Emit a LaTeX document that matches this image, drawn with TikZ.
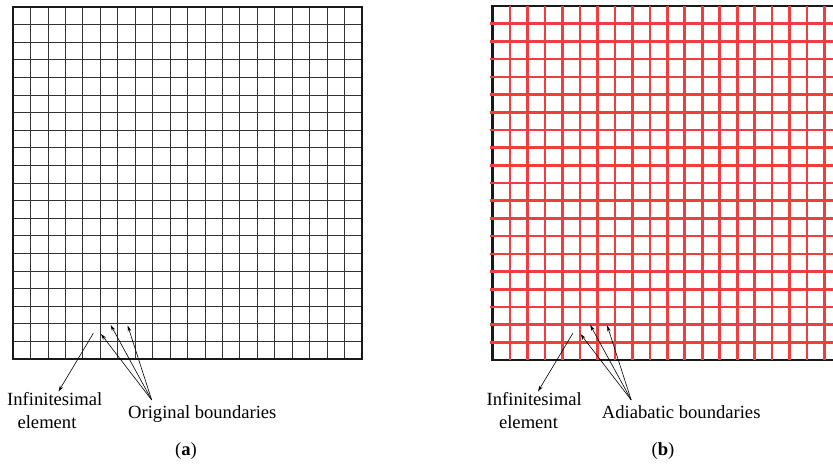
\documentclass[tikz,border=0pt]{standalone}
\usepackage{fontspec}
\setmainfont{Liberation Serif}
\usetikzlibrary{arrows.meta}
\definecolor{gridred}{RGB}{238,62,62}
\tikzset{
  thingrid/.style={line width=0.8pt, black!80},
  redgrid/.style={line width=2.6pt, gridred},
  frame/.style={line width=2.2pt, black!90},
  lbl/.style={inner sep=0pt, font=\fontsize{18.6pt}{23pt}\selectfont},
  ptr/.style={line width=0.6pt, -{Stealth[length=6pt,width=3.6pt]}},
}
\begin{document}
\begin{tikzpicture}[x=1pt,y=-1pt]
\useasboundingbox (0,0) rectangle (833,464);
% ---------- (a) grid ----------
\foreach \i in {1,...,19} {
  \draw[thingrid] ({13+\i*17.45},7) -- ({13+\i*17.45},359);
  \draw[thingrid] (13,{7+\i*17.6}) -- (362,{7+\i*17.6});
}
\draw[frame] (13,7) rectangle (362,359);
% ---------- (b) grid ----------
\begin{scope}
  \clip (0,0) rectangle (833,464);
  \draw[frame] (492.5,6) rectangle (842,360);
  \foreach \i in {1,...,19} {
    \draw[redgrid] ({492.5+\i*17.48},6) -- ({492.5+\i*17.48},360);
    \draw[redgrid] (490,{6+\i*17.7}) -- (845,{6+\i*17.7});
  }
\end{scope}
% ---------- (a) labels ----------
\node[lbl, anchor=base west] (infa1) at (7,405) {Infinitesimal};
\node[lbl, anchor=base] (infa2) at (47,428) {element};
\node[lbl, anchor=base west] (origb) at (128,418) {Original boundaries};
\node[lbl, anchor=base] (capa) at (186,455) {(\textbf{a})};
\coordinate (ea) at (93.3,333.3);
\coordinate (eta) at (58.5,391.5);
\draw[ptr] (ea) -- (eta);
\coordinate (oa) at (151.7,400);
\coordinate (ta1) at (101,334);
\coordinate (ta2) at (110.7,325);
\coordinate (ta3) at (127.7,325.5);
\draw[ptr] (oa) -- (ta1);
\draw[ptr] (oa) -- (ta2);
\draw[ptr] (oa) -- (ta3);
% ---------- (b) labels ----------
\node[lbl, anchor=base west] (infb1) at (486.5,405) {Infinitesimal};
\node[lbl, anchor=base] (infb2) at (528.5,428) {element};
\node[lbl, anchor=base west] (adib) at (601.7,418) {Adiabatic boundaries};
\node[lbl, anchor=base] (capb) at (663,455) {(\textbf{b})};
\coordinate (eb) at (572.8,333.3);
\coordinate (etb) at (538,391.5);
\draw[ptr] (eb) -- (etb);
\coordinate (ob) at (631.2,400);
\coordinate (tb1) at (580.5,334);
\coordinate (tb2) at (590.2,325);
\coordinate (tb3) at (607.2,325.5);
\draw[ptr] (ob) -- (tb1);
\draw[ptr] (ob) -- (tb2);
\draw[ptr] (ob) -- (tb3);
\end{tikzpicture}
\end{document}
